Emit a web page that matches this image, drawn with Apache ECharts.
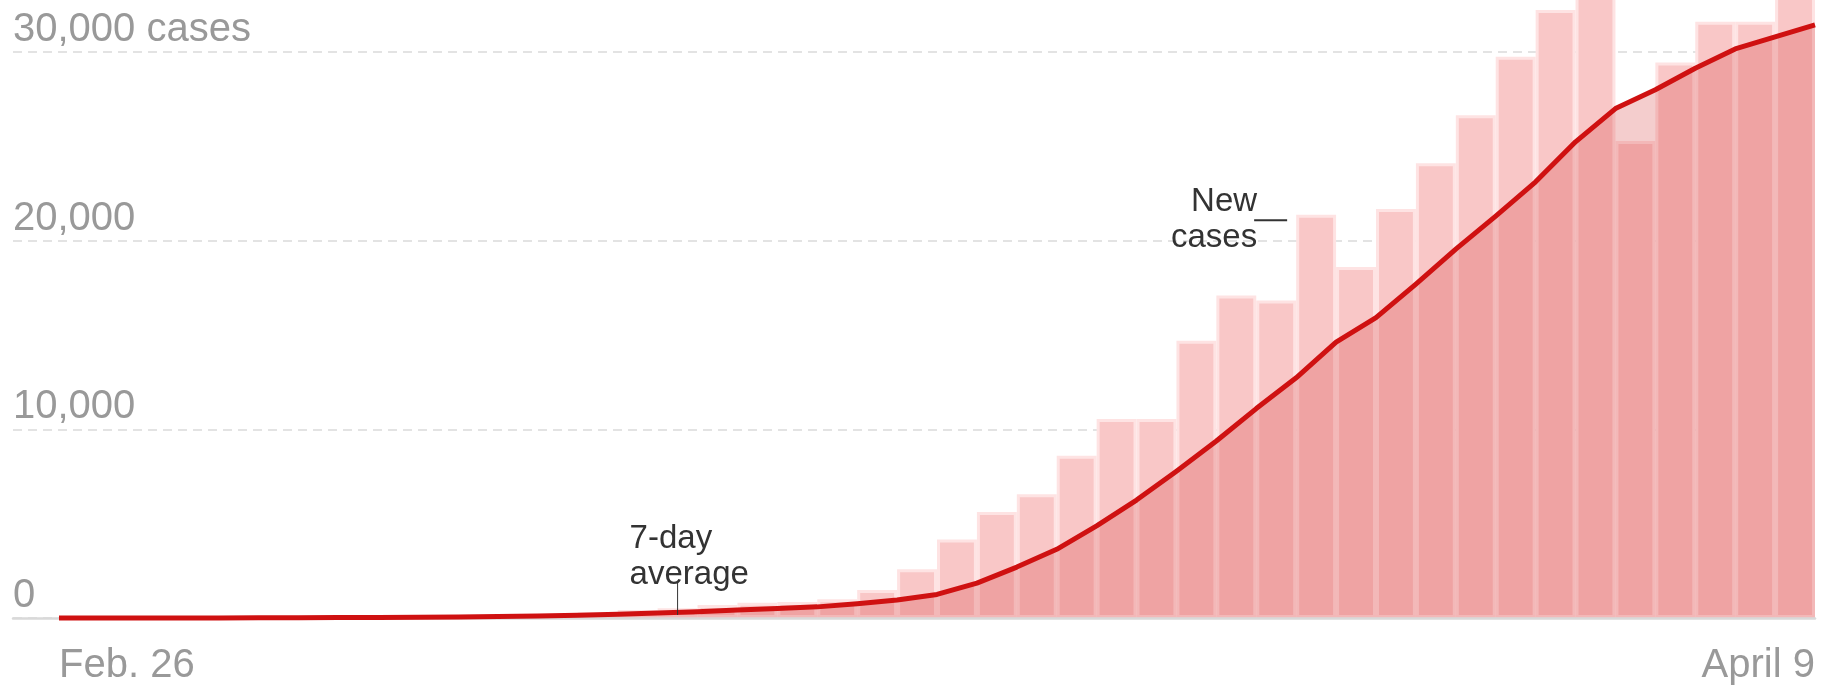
<!DOCTYPE html>
<html>
<head>
<meta charset="utf-8">
<script src="https://cdn.jsdelivr.net/npm/echarts@6.0.0/dist/echarts.min.js"></script>
<style>
html,body{margin:0;padding:0;background:#fff;}
#c{width:1826px;height:687px;}
</style>
</head>
<body>
<div id="c"></div>
<script>
// ---- data ----
const dates = ['Feb. 26','Feb. 27','Feb. 28','Feb. 29',
  'March 1','March 2','March 3','March 4','March 5','March 6','March 7','March 8','March 9','March 10',
  'March 11','March 12','March 13','March 14','March 15','March 16','March 17','March 18','March 19','March 20',
  'March 21','March 22','March 23','March 24','March 25','March 26','March 27','March 28','March 29','March 30','March 31',
  'April 1','April 2','April 3','April 4','April 5','April 6','April 7','April 8','April 9'];

const newCases = [2, 3, 6, 8,
  18, 25, 30, 45, 70, 90, 110, 130, 200, 290,
  420, 520, 690, 810, 850, 1000, 1490, 2580, 4160, 5620,
  6560, 8600, 10550, 10550, 14700, 17100, 16830, 21380, 18600, 21680, 24100,
  26650, 29750, 32230, 33400, 25280, 29450, 31600, 31600, 33200];

// 7-day average, read at each day boundary (start of first day ... end of last day)
const avg7 = [0, 2, 3, 4, 6, 10, 14, 20, 28, 40, 55, 75, 110, 150, 200,
  260, 330, 420, 500, 590, 750, 950, 1250, 1850, 2700, 3640, 4880, 6250, 7780,
  9380, 11100, 12730, 14620, 15920, 17700, 19550, 21300, 23120, 25240, 27000,
  28000, 29140, 30160, 30800, 31440];

const yTicks = [0, 10000, 20000, 30000];
const yTickLabels = ['0', '10,000', '20,000', '30,000 cases'];
const xTickLabels = ['Feb. 26', 'April 9'];

const annotations = [
  {text: '7-day\naverage', day: 'March 12'},
  {text: 'New\ncases', day: 'March 28'}
];

// ---- chart ----
const FONT = '"Liberation Sans", Arial, Helvetica, sans-serif';
const edgeCats = avg7.map(function (v, i) {
  if (i === 0) return {value: 'e0', textStyle: {align: 'left'}};
  if (i === avg7.length - 1) return {value: 'e' + i, textStyle: {align: 'right'}};
  return 'e' + i;
});

const chart = echarts.init(document.getElementById('c'), null, {renderer: 'canvas'});

const option = {
  animation: false,
  backgroundColor: '#fff',
  grid: [
    {left: 13, right: 11, top: 52, bottom: 69, outerBoundsMode: 'none', containLabel: false},
    {left: 59, right: 11, top: 52, bottom: 69, outerBoundsMode: 'none', containLabel: false}
  ],
  xAxis: [
    {gridIndex: 0, type: 'value', min: 0, max: 1, z: 4, position: 'bottom',
      axisLine: {show: true, onZero: false, lineStyle: {color: '#d9d9d9', width: 2.5}},
      axisTick: {show: false}, axisLabel: {show: false}, splitLine: {show: false}},
    {gridIndex: 1, type: 'category', data: dates, boundaryGap: true, show: false, position: 'bottom'},
    {gridIndex: 1, type: 'category', data: edgeCats, boundaryGap: false, position: 'bottom',
      axisLine: {show: false, onZero: false}, axisTick: {show: false}, splitLine: {show: false},
      axisLabel: {
        interval: function (i) { return i === 0 || i === avg7.length - 1; },
        formatter: function (v, i) { return i === 0 ? xTickLabels[0] : xTickLabels[1]; },
        color: '#999', fontSize: 40, fontFamily: FONT, margin: 28, lineHeight: 40
      }}
  ],
  yAxis: [
    {gridIndex: 0, type: 'value', min: 0, max: 30000, interval: 10000,
      axisLine: {show: false}, axisTick: {show: false},
      axisLabel: {
        inside: true, margin: 0, align: 'left', verticalAlign: 'bottom',
        padding: [0, 0, 2, 0], lineHeight: 40, fontSize: 40, fontFamily: FONT, color: '#999',
        formatter: function (v) { const k = yTicks.indexOf(v); return k < 0 ? '' : yTickLabels[k]; }
      },
      splitLine: {show: true, lineStyle: {color: '#e3e3e3', width: 2, type: [9, 6]}}},
    {gridIndex: 1, type: 'value', min: 0, max: 30000, interval: 10000, show: false}
  ],
  series: [
    {type: 'bar', name: 'New cases', xAxisIndex: 1, yAxisIndex: 1, data: newCases,
      barWidth: '100%', clip: false, z: 2, silent: true,
      itemStyle: {color: '#f9c7c7', borderColor: '#fee3e3', borderWidth: 3}},
    {type: 'line', name: 'area', xAxisIndex: 2, yAxisIndex: 1, data: avg7,
      symbol: 'none', z: 3, silent: true, clip: false,
      lineStyle: {width: 0}, areaStyle: {color: 'rgba(213,55,55,0.25)', opacity: 1}},
    {type: 'line', name: '7-day average', xAxisIndex: 2, yAxisIndex: 1, data: avg7,
      symbol: 'none', z: 5, silent: true, clip: false,
      lineStyle: {width: 5, color: '#cf1111', join: 'round', cap: 'butt'}}
  ]
};
chart.setOption(option);

// annotations anchored through the chart's own scales
const pA = chart.convertToPixel({xAxisIndex: 1, yAxisIndex: 1}, [annotations[0].day, 0]);
const dayB = dates.indexOf(annotations[1].day);
const pB = chart.convertToPixel({xAxisIndex: 1, yAxisIndex: 1}, [annotations[1].day, newCases[dayB]]);
const ANNO_FONT = '33px ' + FONT;

chart.setOption({
  graphic: [
    {type: 'line', z: 20, silent: true,
      shape: {x1: pA[0], y1: pA[1] - 3, x2: pA[0], y2: pA[1] - 35},
      style: {stroke: '#333', lineWidth: 1}},
    {type: 'text', z: 20, silent: true, x: pA[0] - 48, y: pA[1] - 25,
      style: {text: annotations[0].text, font: ANNO_FONT, fill: '#333',
        align: 'left', verticalAlign: 'bottom', lineHeight: 36}},
    {type: 'line', z: 20, silent: true,
      shape: {x1: pB[0] - 62, y1: pB[1] + 5.5, x2: pB[0] - 29, y2: pB[1] + 5.5},
      style: {stroke: '#333', lineWidth: 2}},
    {type: 'text', z: 20, silent: true, x: pB[0] - 59, y: pB[1] + 5,
      style: {text: annotations[1].text, font: ANNO_FONT, fill: '#333',
        align: 'right', verticalAlign: 'middle', lineHeight: 36}}
  ]
});
</script>
</body>
</html>
